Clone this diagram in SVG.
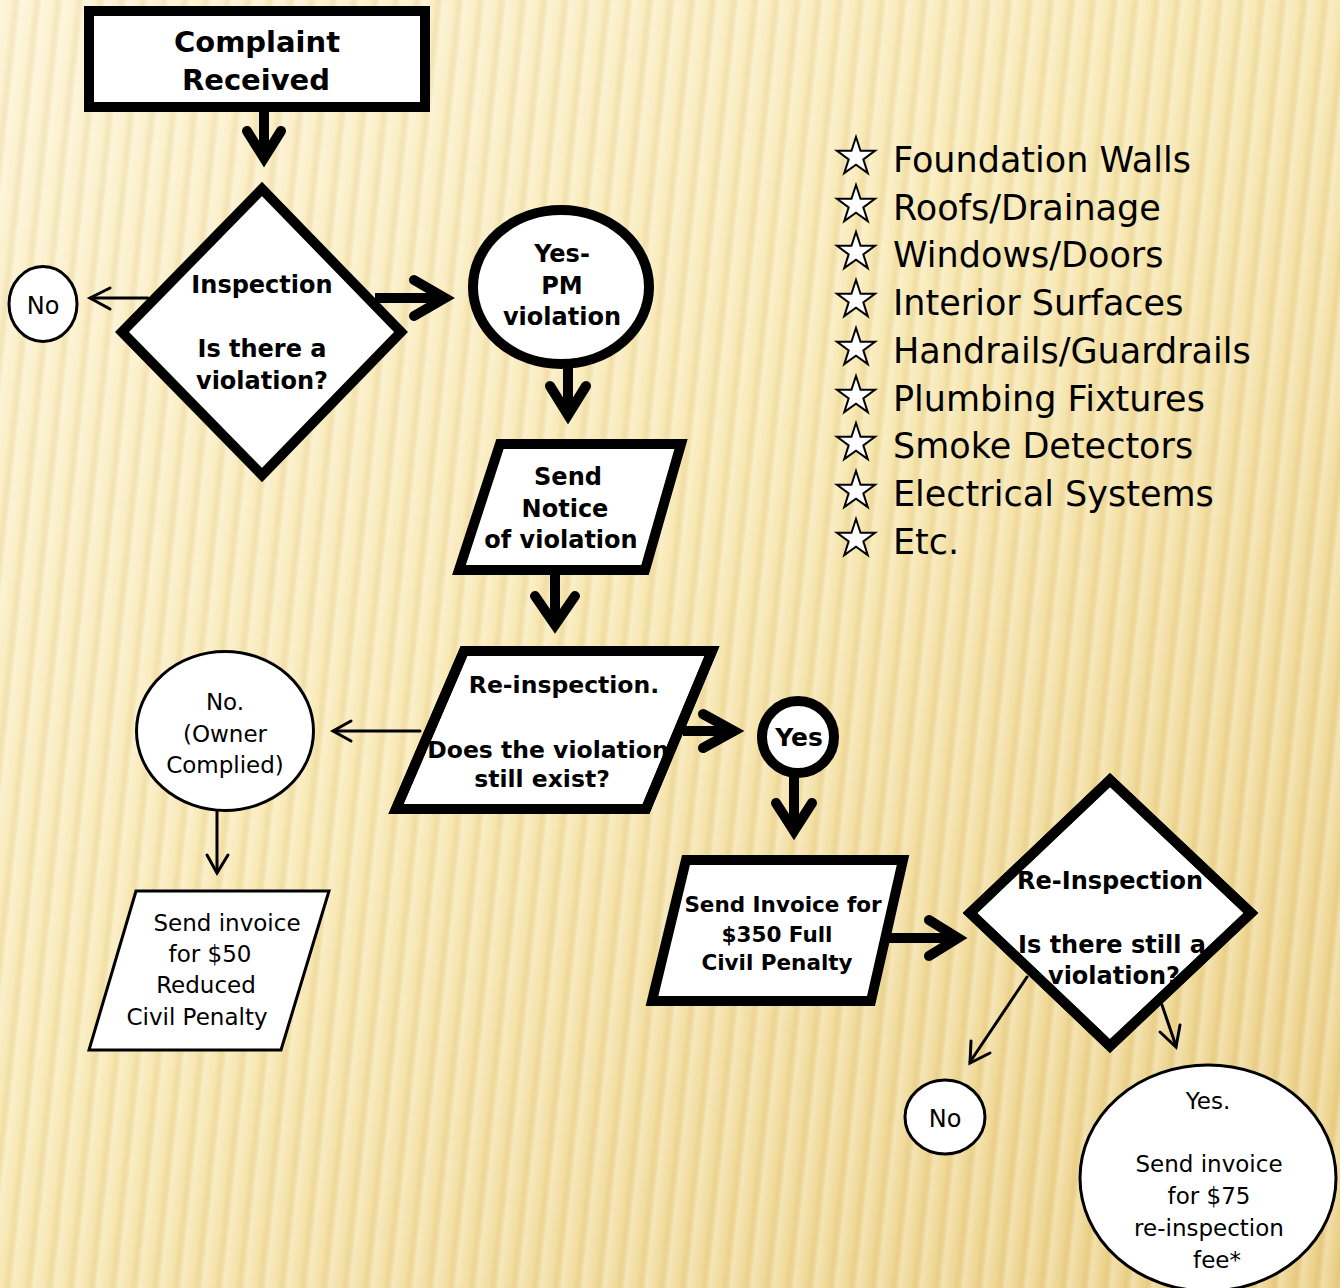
<svg xmlns="http://www.w3.org/2000/svg" xmlns:xlink="http://www.w3.org/1999/xlink" width="1340" height="1288" viewBox="0 0 1340 1288">
<defs>
<linearGradient id="bg" x1="0" y1="0" x2="1" y2="1">
<stop offset="0" stop-color="#FDF3D2"/>
<stop offset="0.45" stop-color="#F8E8B2"/>
<stop offset="1" stop-color="#EBCF85"/>
</linearGradient>
<linearGradient id="stripeG" x1="0" y1="0" x2="1" y2="0">
<stop offset="0" stop-color="#FFFFFF" stop-opacity="0.3"/>
<stop offset="0.45" stop-color="#FFFFFF" stop-opacity="0.05"/>
<stop offset="0.7" stop-color="#B8902E" stop-opacity="0.1"/>
<stop offset="1" stop-color="#FFFFFF" stop-opacity="0.3"/>
</linearGradient>
<pattern id="stripes" width="21" height="40" patternUnits="userSpaceOnUse" patternTransform="rotate(6)">
<rect width="21" height="40" fill="url(#stripeG)"/>
</pattern>
<polygon id="star" points="0,-20 4.53,-6.23 19.02,-6.18 7.32,2.38 11.76,16.18 0,7.7 -11.76,16.18 -7.32,2.38 -19.02,-6.18 -4.53,-6.23"/>
<style>
.thick{fill:#fff;stroke:#000;stroke-width:10;stroke-linejoin:miter;stroke-miterlimit:10}
.thin{fill:#fff;stroke:#000;stroke-width:3}
.edge{fill:none;stroke:#000;stroke-width:10;stroke-linejoin:miter;stroke-miterlimit:10}
.b{font-family:'DejaVu Sans',sans-serif;font-weight:bold;font-size:24px;text-anchor:middle;fill:#000}
.r{font-family:'DejaVu Sans',sans-serif;font-size:23px;text-anchor:middle;fill:#000}
.list{font-family:'DejaVu Sans',sans-serif;font-size:35px;fill:#000}
.sh{fill:none;stroke:#000;stroke-width:10;stroke-linecap:butt}
.hd{fill:none;stroke:#000;stroke-width:10;stroke-linecap:round;stroke-linejoin:miter;stroke-miterlimit:10}
.ts{fill:none;stroke:#000;stroke-width:3;stroke-linecap:round}
.th{fill:none;stroke:#000;stroke-width:3;stroke-linecap:round;stroke-linejoin:miter}
.st{fill:#fff;stroke:#000;stroke-width:2;stroke-linejoin:miter}
</style>
</defs>
<rect width="1340" height="1288" fill="url(#bg)"/>
<rect width="1340" height="1288" fill="url(#stripes)"/>

<g id="n-complaint">
<rect class="thick" x="89" y="11" width="336" height="96"/>
<text class="b" style="font-size:29px" x="257" y="52">Complaint</text>
<text class="b" style="font-size:29px" x="256" y="90">Received</text>
</g>

<g id="n-inspection">
<polygon class="thick" points="262,189 401,332 262,475 122,332"/>
<text class="b" x="262" y="293">Inspection</text>
<text class="b" x="262" y="357">Is there a</text>
<text class="b" x="262" y="389">violation?</text>
</g>

<g id="n-no1">
<ellipse class="thin" cx="43" cy="304" rx="34" ry="37.5"/>
<text class="r" style="font-size:24px" x="43" y="314">No</text>
</g>

<g id="n-yespm">
<ellipse class="thick" cx="561" cy="287" rx="88" ry="77"/>
<text class="b" x="562" y="262">Yes-</text>
<text class="b" x="562" y="294">PM</text>
<text class="b" x="562" y="325">violation</text>
</g>

<g id="n-notice">
<polygon class="thick" points="500,444 681,444 645,570 459,570"/>
<text class="b" x="568" y="485">Send</text>
<text class="b" x="565" y="517">Notice</text>
<text class="b" x="561" y="548">of violation</text>
</g>

<g id="n-reinspection">
<polygon class="thick" points="464,651 712,651 646,809 396,809"/>
<text class="b" style="font-size:23.5px" x="564" y="693">Re-inspection.</text>
<text class="b" style="font-size:23.5px" x="548" y="758">Does the violation</text>
<text class="b" style="font-size:23.5px" x="542" y="787">still exist?</text>
<polygon class="edge" points="464,651 712,651 646,809 396,809"/>
</g>

<g id="n-owner">
<ellipse class="thin" cx="225" cy="731" rx="88.5" ry="79.5"/>
<text class="r" x="225" y="710">No.</text>
<text class="r" x="225" y="742">(Owner</text>
<text class="r" x="225" y="773">Complied)</text>
</g>

<g id="n-invoice50">
<polygon class="thin" points="136,891 329,891 281,1050 89,1050"/>
<text class="r" x="227" y="931">Send invoice</text>
<text class="r" x="210" y="962">for $50</text>
<text class="r" x="206" y="993">Reduced</text>
<text class="r" x="197" y="1025">Civil Penalty</text>
</g>

<g id="n-yes">
<circle class="thick" cx="798" cy="737" r="36"/>
<text class="b" style="font-size:25px" x="799" y="746">Yes</text>
</g>

<g id="n-invoice350">
<polygon class="thick" points="686,860 903,860 871,1001 652,1001"/>
<text class="b" style="font-size:21.5px" x="783" y="912">Send Invoice for</text>
<text class="b" style="font-size:21.5px" x="777" y="942">$350 Full</text>
<text class="b" style="font-size:21.5px" x="777" y="970">Civil Penalty</text>
</g>

<g id="n-reinspection2">
<polygon class="thick" points="1110,780 1251,913 1110,1046 970,913"/>
<text class="b" x="1110" y="889">Re-Inspection</text>
<text class="b" x="1112" y="953">Is there still a</text>
<text class="b" x="1114" y="984">violation?</text>
<polygon class="edge" points="1110,780 1251,913 1110,1046 970,913"/>
</g>

<g id="n-no2">
<ellipse class="thin" cx="945" cy="1117" rx="40" ry="37"/>
<text class="r" style="font-size:24px" x="945" y="1127">No</text>
</g>

<g id="n-yesfee">
<ellipse class="thin" cx="1208" cy="1178" rx="128" ry="113"/>
<text class="r" x="1208" y="1109">Yes.</text>
<text class="r" x="1209" y="1172">Send invoice</text>
<text class="r" x="1209" y="1204">for $75</text>
<text class="r" x="1209" y="1236">re-inspection</text>
<text class="r" x="1217" y="1268">fee*</text>
</g>

<g id="connectors">
<line class="sh" x1="264" y1="111" x2="264" y2="152"/>
<polyline class="hd" points="247,131 264,158 281,131"/>
<line class="sh" x1="375" y1="298" x2="440" y2="298"/>
<polyline class="hd" points="414,280 445,298 414,316"/>
<line class="sh" x1="568" y1="368" x2="568" y2="409"/>
<polyline class="hd" points="550,386 568,415 586,386"/>
<line class="sh" x1="555" y1="574" x2="555" y2="618"/>
<polyline class="hd" points="535,596 555,625 575,596"/>
<line class="sh" x1="683" y1="731" x2="728" y2="731"/>
<polyline class="hd" points="703,714 734,731 703,748"/>
<line class="sh" x1="794" y1="777" x2="794" y2="825"/>
<polyline class="hd" points="776,803 794,831 812,803"/>
<line class="sh" x1="885" y1="938" x2="952" y2="938"/>
<polyline class="hd" points="929,920 958,938 929,956"/>
<line class="ts" x1="148" y1="298" x2="91" y2="298"/>
<polyline class="th" points="110,288 90,298 110,309"/>
<line class="ts" x1="420" y1="731" x2="334" y2="731"/>
<polyline class="th" points="351,721 333,731 351,741"/>
<line class="ts" x1="217" y1="812" x2="217" y2="872"/>
<polyline class="th" points="207,855 217,873 228,855"/>
<line class="ts" x1="1027" y1="977" x2="970" y2="1062"/>
<polyline class="th" points="971,1041 970,1063 990,1053"/>
<line class="ts" x1="1162" y1="1005" x2="1176" y2="1046"/>
<polyline class="th" points="1160,1032 1176,1047 1180,1025"/>
</g>

<g id="checklist">
<use href="#star" class="st" x="856" y="157"/>
<use href="#star" class="st" x="856" y="205"/>
<use href="#star" class="st" x="856" y="252"/>
<use href="#star" class="st" x="856" y="300"/>
<use href="#star" class="st" x="856" y="348"/>
<use href="#star" class="st" x="856" y="396"/>
<use href="#star" class="st" x="856" y="443"/>
<use href="#star" class="st" x="856" y="491"/>
<use href="#star" class="st" x="856" y="539"/>
<text class="list" x="893" y="172">Foundation Walls</text>
<text class="list" x="893" y="220">Roofs/Drainage</text>
<text class="list" x="893" y="267">Windows/Doors</text>
<text class="list" x="893" y="315">Interior Surfaces</text>
<text class="list" x="893" y="363">Handrails/Guardrails</text>
<text class="list" x="893" y="411">Plumbing Fixtures</text>
<text class="list" x="893" y="458">Smoke Detectors</text>
<text class="list" x="893" y="506">Electrical Systems</text>
<text class="list" x="893" y="554">Etc.</text>
</g>
</svg>
